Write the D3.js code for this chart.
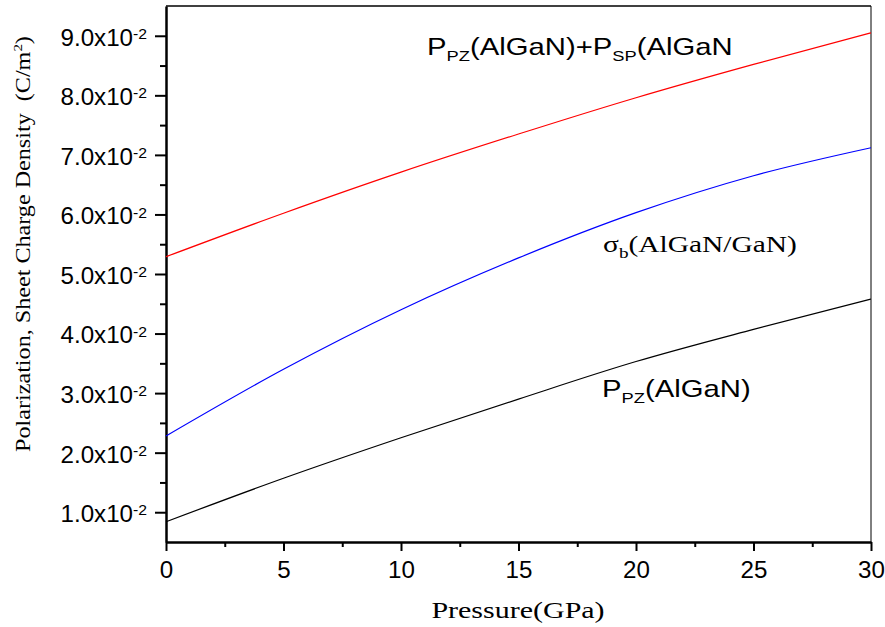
<!DOCTYPE html>
<head>
<meta charset="utf-8">
<style>
  body { margin: 0; background: #fff; }
  .axis path, .axis line { stroke: #000; }
</style>
</head>
<body>
<div id="chart"></div>
<script src="https://d3js.org/d3.v7.min.js"></script>
<script>
// pressure in GPa, values in C/m^2
var pressure = [0, 5, 10, 15, 20, 25, 30];
var totalPol = [0.0529, 0.0602, 0.0671, 0.0735, 0.0796, 0.0852, 0.0905];
var sigmaB   = [0.0228, 0.0340, 0.0440, 0.0527, 0.0603, 0.0665, 0.0712];
var pzPol    = [0.0084, 0.0157, 0.0225, 0.0290, 0.0353, 0.0407, 0.0458];
var xTicks = [0, 5, 10, 15, 20, 25, 30];
var yTicks = [0.01, 0.02, 0.03, 0.04, 0.05, 0.06, 0.07, 0.08, 0.09];
var yTickLabels = ["1.0", "2.0", "3.0", "4.0", "5.0", "6.0", "7.0", "8.0", "9.0"];

var W = 885, H = 627;
var margin = {top: 6, right: 14, bottom: 85, left: 166},
    width = W - margin.left - margin.right,
    height = H - margin.top - margin.bottom;

var SANS = "Liberation Sans, Arial, sans-serif",
    SERIF = "Liberation Serif, Times New Roman, serif";

var x = d3.scaleLinear().domain([0, 30]).range([0, width]);
var y = d3.scaleLinear().domain([0.005, 0.095]).range([height, 0]);

var svg = d3.select("#chart").append("svg")
    .attr("width", W)
    .attr("height", H)
  .append("g")
    .attr("transform", "translate(" + margin.left + "," + margin.top + ")");

// frame (top and right)
svg.append("line").attr("x1", 0).attr("x2", width).attr("y1", 0).attr("y2", 0)
    .attr("stroke", "#000").attr("stroke-width", 1.5);
svg.append("line").attr("x1", width).attr("x2", width).attr("y1", 0).attr("y2", height)
    .attr("stroke", "#000").attr("stroke-width", 1);

// minor ticks
svg.append("g")
    .attr("class", "axis")
    .attr("transform", "translate(0," + height + ")")
    .call(d3.axisBottom(x).tickValues(d3.range(2.5, 30, 5)).tickSize(5).tickFormat(""))
    .call(function(g) { g.select(".domain").remove(); })
    .selectAll("line").attr("stroke-width", 2);
svg.append("g")
    .attr("class", "axis")
    .call(d3.axisLeft(y).tickValues(d3.range(0.015, 0.095, 0.01)).tickSize(6).tickFormat(""))
    .call(function(g) { g.select(".domain").remove(); })
    .selectAll("line").attr("stroke-width", 2);

// x axis
var gx = svg.append("g")
    .attr("class", "axis")
    .attr("transform", "translate(0," + height + ")")
    .call(d3.axisBottom(x).tickValues(xTicks).tickSize(9).tickSizeOuter(0).tickPadding(11));
gx.select(".domain").attr("stroke-width", 2.5);
gx.selectAll("line").attr("stroke-width", 2);
gx.selectAll("text")
    .attr("font-family", SANS)
    .attr("font-size", 23)
    .attr("fill", "#000")
    .attr("transform", "scale(1.05,1)");

// y axis
var gy = svg.append("g")
    .attr("class", "axis")
    .call(d3.axisLeft(y).tickValues(yTicks).tickSize(11).tickSizeOuter(0));
gy.select(".domain").attr("stroke-width", 2.5);
gy.selectAll("line").attr("stroke-width", 2);
gy.selectAll("text")
    .attr("font-family", SANS)
    .attr("font-size", 23)
    .attr("fill", "#000")
    .attr("x", 0)
    .attr("transform", "translate(-19,2) scale(1.05,1)")
    .each(function(d, i) {
      var t = d3.select(this).text(null);
      t.append("tspan").text(yTickLabels[i] + "x10");
      t.append("tspan").attr("dy", "-0.45em").attr("font-size", 15).text("-2");
    });

// curves
var line = d3.line()
    .x(function(d) { return x(d[0]); })
    .y(function(d) { return y(d[1]); })
    .curve(d3.curveMonotoneX);

var series = [
  {vals: totalPol, color: "#ff0000"},
  {vals: sigmaB, color: "#0000ff"},
  {vals: pzPol, color: "#000000"}
];
series.forEach(function(s) {
  svg.append("path")
      .datum(pressure.map(function(p, i) { return [p, s.vals[i]]; }))
      .attr("fill", "none")
      .attr("stroke", s.color)
      .attr("stroke-width", 1.2)
      .attr("d", line);
});

// annotations (page coords)
var page = d3.select("svg");
function sansLabel(px, py, parts) {
  var t = page.append("text")
      .attr("transform", "translate(" + px + "," + py + ") scale(1.22,1)")
      .attr("font-family", SANS)
      .attr("font-size", 24)
      .attr("fill", "#000");
  parts.forEach(function(p) {
    if (p.sub) {
      t.append("tspan").attr("font-size", 15).attr("dy", 6).text(p.t);
    } else {
      t.append("tspan").attr("dy", p.after ? -6 : 0).text(p.t);
    }
  });
  return t;
}
sansLabel(427, 55, [{t: "P"}, {t: "PZ", sub: true}, {t: "(AlGaN)+P", after: true}, {t: "SP", sub: true}, {t: "(AlGaN", after: true}]);
sansLabel(602, 397, [{t: "P"}, {t: "PZ", sub: true}, {t: "(AlGaN)", after: true}]);

var sig = page.append("text")
    .attr("transform", "translate(603,252) scale(1.28,1)")
    .attr("font-family", SERIF)
    .attr("font-size", 23)
    .attr("fill", "#000");
sig.append("tspan").text("σ");
sig.append("tspan").attr("font-size", 15).attr("dy", 6).text("b");
sig.append("tspan").attr("dy", -6).text("(AlGaN/GaN)");

// axis titles
page.append("text")
    .attr("transform", "translate(518,618) scale(1.25,1)")
    .attr("text-anchor", "middle")
    .attr("font-family", SERIF)
    .attr("font-size", 24)
    .attr("fill", "#000")
    .text("Pressure(GPa)");

var yt = page.append("text")
    .attr("transform", "translate(30,244) rotate(-90) scale(1.15,1)")
    .attr("text-anchor", "middle")
    .attr("font-family", SERIF)
    .attr("font-size", 21)
    .attr("fill", "#000")
    .attr("xml:space", "preserve");
yt.append("tspan").text("Polarization, Sheet Charge Density  (C/m");
yt.append("tspan").attr("font-size", 13).attr("dy", -8).text("2");
yt.append("tspan").attr("dy", 8).text(")");
</script>
</body>
</html>
